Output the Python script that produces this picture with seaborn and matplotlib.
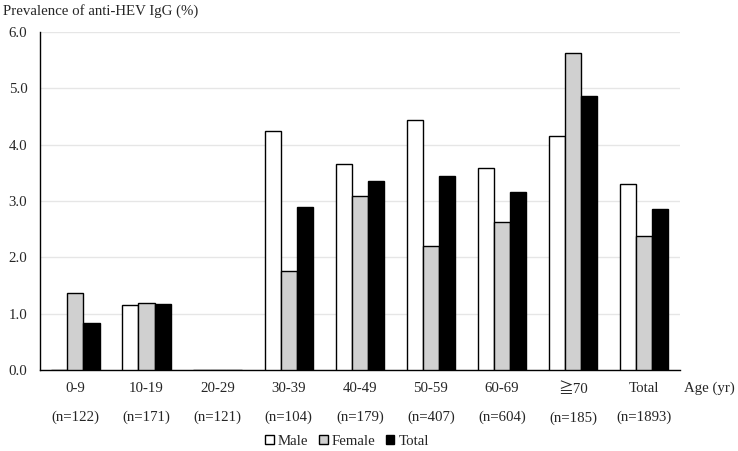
import matplotlib
matplotlib.use("Agg")
import matplotlib.pyplot as plt
import pandas as pd
import seaborn as sns

# -----------------------------
# Data
# -----------------------------
age_groups = ["0-9", "10-19", "20-29", "30-39", "40-49", "50-59", "60-69", "≧70", "Total"]
sample_sizes = ["n=122", "n=171", "n=121", "n=104", "n=179", "n=407", "n=604", "n=185", "n=1893"]
male = [0.0, 1.15, 0.0, 4.25, 3.66, 4.43, 3.58, 4.16, 3.30]
female = [1.37, 1.19, 0.0, 1.76, 3.09, 2.20, 2.62, 5.62, 2.38]
total = [0.83, 1.17, 0.0, 2.89, 3.36, 3.44, 3.16, 4.86, 2.85]

series = ["Male", "Female", "Total"]
colors = ["#ffffff", "#d0d0d0", "#000000"]

df = pd.DataFrame({"age": age_groups, "Male": male, "Female": female, "Total": total})
long_df = df.melt(id_vars="age", var_name="sex", value_name="prevalence")

sns.set_style("white")
plt.rcParams["font.family"] = ["Liberation Serif", "Noto Sans CJK JP", "DejaVu Sans"]

fig = plt.figure(figsize=(7.38, 4.51), dpi=100)
ax = fig.add_axes([0.054, 0.180, 0.867, 0.749])

sns.barplot(data=long_df, x="age", y="prevalence", hue="sex", hue_order=series,
            palette=colors, width=0.68, edgecolor="black", linewidth=1.0,
            saturation=1, ax=ax, zorder=3)

ax.set_ylim(0, 6.0)
ax.set_xlim(-0.5, len(age_groups) - 0.5)
ax.set_yticks([0, 1, 2, 3, 4, 5, 6])
ax.set_yticklabels([f"{v:.1f}" for v in [0, 1, 2, 3, 4, 5, 6]], fontsize=10.7)
ax.set_xticks(range(len(age_groups)))
ax.set_xticklabels([f"{a}\n({n})" for a, n in zip(age_groups, sample_sizes)],
                   fontsize=10.7, linespacing=2.5)
ax.tick_params(axis="x", length=0, pad=9)
ax.tick_params(axis="y", length=0, pad=9)
ax.set_xlabel("")
ax.set_ylabel("")

ax.yaxis.grid(True, color="#e6e6e6", linewidth=1.0, zorder=0)
ax.set_axisbelow(True)
for side in ["top", "right"]:
    ax.spines[side].set_visible(False)
ax.spines["left"].set_color("black")
ax.spines["bottom"].set_color("black")
ax.spines["left"].set_linewidth(1.0)
ax.spines["bottom"].set_linewidth(1.0)

fig.text(0.004, 0.975, "Prevalence of anti-HEV IgG (%)", fontsize=10.7, va="center", ha="left")
fig.text(0.927, 0.140, "Age (yr)", fontsize=10.7, va="center", ha="left")

handles, labels = ax.get_legend_handles_labels()
ax.legend(handles, labels, loc="center", bbox_to_anchor=(0.48, -0.212), ncol=3,
          frameon=False, fontsize=10.7, handlelength=0.6, handleheight=0.6,
          handletextpad=0.25, columnspacing=0.7)

fig.savefig("out.png", dpi=100)
